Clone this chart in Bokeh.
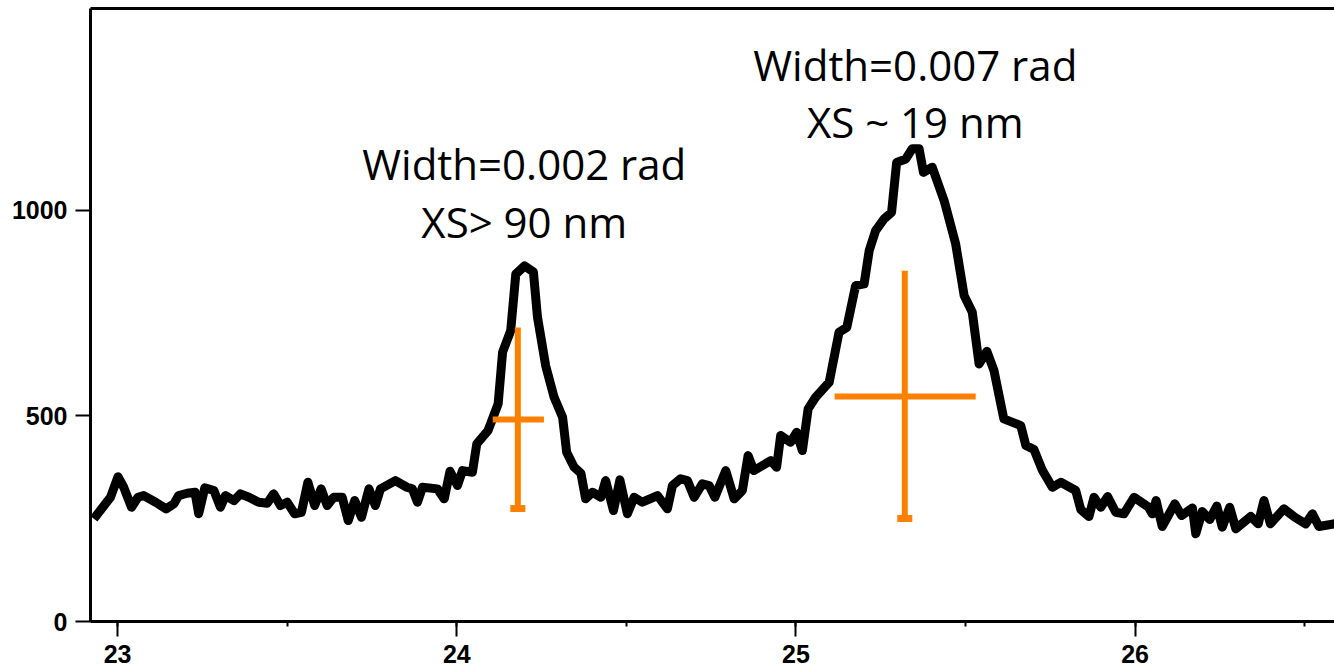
from bokeh.plotting import figure
from bokeh.models import Range1d, LinearAxis, SingleIntervalTicker, FixedTicker, ColumnDataSource
from bokeh.core.properties import value
from bokeh.embed import file_html
from bokeh.resources import INLINE

# --- data ---
two_theta = [22.930, 22.979, 23.001, 23.018, 23.041, 23.060, 23.077, 23.112, 23.143, 23.166,
             23.180, 23.205, 23.228, 23.239, 23.257, 23.284, 23.303, 23.318, 23.343, 23.362,
             23.387, 23.416, 23.441, 23.460, 23.480, 23.500, 23.522, 23.542, 23.561, 23.581,
             23.600, 23.618, 23.637, 23.662, 23.680, 23.699, 23.719, 23.741, 23.760, 23.775,
             23.819, 23.853, 23.869, 23.884, 23.899, 23.943, 23.963, 23.980, 24.002, 24.017,
             24.046, 24.059, 24.092, 24.122, 24.135, 24.159, 24.174, 24.200, 24.226, 24.238,
             24.262, 24.287, 24.312, 24.324, 24.346, 24.366, 24.380, 24.400, 24.425, 24.439,
             24.462, 24.481, 24.503, 24.523, 24.547, 24.592, 24.621, 24.636, 24.660, 24.680,
             24.700, 24.724, 24.744, 24.761, 24.793, 24.818, 24.842, 24.859, 24.876, 24.926,
             24.943, 24.955, 24.984, 25.002, 25.019, 25.036, 25.058, 25.098, 25.127, 25.150,
             25.176, 25.201, 25.216, 25.235, 25.260, 25.282, 25.297, 25.324, 25.343, 25.363,
             25.376, 25.402, 25.437, 25.471, 25.496, 25.520, 25.540, 25.563, 25.584, 25.613,
             25.663, 25.678, 25.702, 25.727, 25.756, 25.781, 25.825, 25.840, 25.864, 25.879,
             25.899, 25.919, 25.943, 25.967, 25.997, 26.039, 26.051, 26.062, 26.080, 26.117,
             26.137, 26.169, 26.179, 26.198, 26.220, 26.241, 26.257, 26.279, 26.297, 26.341,
             26.363, 26.380, 26.399, 26.439, 26.471, 26.503, 26.523, 26.542, 26.586, 26.620]
intensity = [250.0, 302.2, 352.0, 326.5, 277.9, 302.2, 306.3, 290.1, 274.0, 286.2,
             306.3, 311.9, 314.4, 261.9, 325.1, 318.5, 277.9, 306.3, 294.2, 310.5,
             302.2, 290.1, 287.6, 310.5, 282.0, 290.1, 261.9, 265.7, 338.7, 282.0,
             322.6, 282.0, 302.2, 302.2, 245.6, 294.2, 253.6, 322.6, 282.0, 322.6,
             342.8, 326.5, 322.6, 290.1, 326.5, 322.6, 298.3, 365.4, 330.7, 367.1,
             363.0, 432.0, 464.4, 529.3, 654.8, 707.5, 845.0, 865.0, 850.0, 739.9,
             622.4, 545.3, 496.7, 411.6, 375.2, 360.6, 298.3, 314.4, 302.2, 342.8,
             269.9, 344.5, 261.9, 302.2, 290.1, 306.3, 274.0, 330.7, 347.0, 342.8,
             302.2, 334.8, 330.7, 302.2, 367.1, 298.3, 318.5, 403.6, 367.1, 391.4,
             375.2, 452.2, 435.9, 460.2, 415.8, 517.1, 545.3, 581.8, 703.4, 715.5,
             816.9, 821.0, 902.0, 950.6, 979.1, 995.1, 1116.7, 1125.0, 1150.0, 1150.0,
             1092.4, 1105.0, 1023.6, 918.3, 792.6, 752.0, 626.5, 657.2, 610.3, 492.8,
             476.5, 427.9, 418.2, 367.1, 326.5, 338.7, 318.5, 272.3, 255.3, 302.2,
             277.9, 303.9, 265.7, 261.9, 302.2, 278.4, 261.9, 294.2, 231.0, 286.2,
             257.7, 276.0, 213.2, 267.4, 248.0, 280.8, 229.3, 277.9, 225.4, 255.3,
             237.5, 294.2, 237.5, 274.0, 253.6, 237.5, 261.9, 231.0, 237.5, 240.0]

# orange width markers (peak position, vertical span, horizontal span)
mark_x = [24.180, 25.321]
mark_ylo = [274.7, 250.4]
mark_yhi = [714.8, 853.4]
mark_xlo = [24.106, 25.114]
mark_xhi = [24.257, 25.530]
mark_ymid = [491.1, 547.0]

# annotations
ann_x = [24.199, 24.199, 25.352, 25.352]
ann_y = [1113, 972, 1356, 1215]
ann_text = ["Width=0.002 rad", "XS> 90 nm", "Width=0.007 rad", "XS ~ 19 nm"]

x_tick_interval = 1
y_ticks = [0, 500, 1000]

ORANGE = "#ff8000"

p = figure(width=1334, height=667, output_backend="svg", toolbar_location=None,
           x_range=Range1d(22.92, 26.588), y_range=Range1d(0, 1491),
           min_border_left=90, min_border_right=0, min_border_top=8, min_border_bottom=46)
p.outline_line_color = None
p.xgrid.visible = False
p.ygrid.visible = False
p.background_fill_color = "white"
p.border_fill_color = "white"

xa = p.xaxis[0]
xa.ticker = SingleIntervalTicker(interval=x_tick_interval, num_minor_ticks=2)
xa.axis_line_width = 3
xa.axis_line_color = "black"
xa.major_tick_out = 15
xa.major_tick_in = 0
xa.major_tick_line_width = 2
xa.minor_tick_out = 5
xa.minor_tick_in = 0
xa.minor_tick_line_width = 2
xa.major_label_standoff = 8
xa.major_label_text_font = "Liberation Sans"
xa.major_label_text_font_style = "bold"
xa.major_label_text_font_size = "25px"
xa.major_label_text_color = "black"

ya = p.yaxis[0]
ya.ticker = FixedTicker(ticks=y_ticks)
ya.axis_line_width = 3
ya.axis_line_color = "black"
ya.major_tick_out = 15
ya.major_tick_in = 0
ya.major_tick_line_width = 2
ya.minor_tick_line_color = None
ya.major_label_standoff = 8
ya.major_label_text_font = "Liberation Sans"
ya.major_label_text_font_style = "bold"
ya.major_label_text_font_size = "25px"
ya.major_label_text_color = "black"

top = LinearAxis(ticker=FixedTicker(ticks=[]), axis_line_width=3, axis_line_color="black",
                 major_tick_line_color=None, minor_tick_line_color=None,
                 major_label_text_font_size="0px", major_label_standoff=0)
p.add_layout(top, "above")

p.line(two_theta, intensity, line_color="black", line_width=9, line_join="round")

p.segment(x0=mark_x, y0=mark_ylo, x1=mark_x, y1=mark_yhi, line_color=ORANGE, line_width=6)
p.segment(x0=mark_xlo, y0=mark_ymid, x1=mark_xhi, y1=mark_ymid, line_color=ORANGE, line_width=6)
p.scatter(x=mark_x, y=mark_ylo, marker="dash", size=15, line_color=ORANGE, line_width=7)

src = ColumnDataSource(dict(x=ann_x, y=ann_y, t=ann_text))
p.text(x="x", y="y", text="t", source=src, text_align="center", text_baseline="alphabetic",
       text_font=value("Open Sans"), text_font_size="42px", text_color="black")

open("out.html", "w").write(file_html(p, INLINE))
